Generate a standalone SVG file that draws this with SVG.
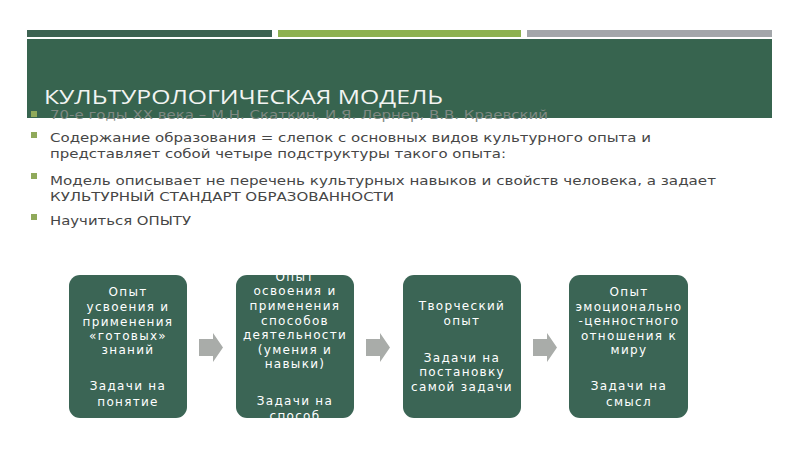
<svg xmlns="http://www.w3.org/2000/svg" width="800" height="449" viewBox="0 0 800 449">
  <style>
    .title { font-family: "Open Sans", "DejaVu Sans", sans-serif; font-size: 20px; fill: #f2f4f2; }
    .body { font-family: "DejaVu Sans", "Noto Sans", sans-serif; font-size: 13px; fill: #464646; }
    .sub { font-family: "DejaVu Sans", "Noto Sans", sans-serif; font-size: 11.5px; fill: #7f8983; }
    .bullet { fill: #8fa95a; }
    .box { fill: #3b6555; }
    .bt { font-family: "DejaVu Sans", "Noto Sans", sans-serif; font-size: 12px; fill: #ffffff; text-anchor: middle; letter-spacing: 1.3px; }
    .arrow { fill: #a9aca9; }
  </style>
  <defs>
    <path id="arr" d="M0,6 H14 V0 L24,14.5 L14,29 V23 H0 Z"/>
  </defs>
  <rect width="800" height="449" fill="#ffffff"/>

  <!-- top bars -->
  <rect x="27" y="30" width="245" height="7" fill="#3d6352"/>
  <rect x="278" y="30" width="243" height="7" fill="#8db150"/>
  <rect x="527" y="30" width="245" height="7" fill="#a3a6aa"/>

  <!-- header -->
  <rect x="27" y="39" width="745" height="79" fill="#37644f"/>
  <text class="title" x="44" y="103.5" textLength="399" lengthAdjust="spacingAndGlyphs">КУЛЬТУРОЛОГИЧЕСКАЯ МОДЕЛЬ</text>

  <!-- bullets -->
  <rect class="bullet" x="31" y="111" width="6" height="6"/>
  <text class="sub" x="50" y="119" textLength="498" lengthAdjust="spacingAndGlyphs">70-е годы XX века – М.Н. Скаткин, И.Я. Лернер, В.В. Краевский</text>

  <rect class="bullet" x="31" y="132" width="6" height="6"/>
  <text class="body" x="50" y="142" textLength="601" lengthAdjust="spacingAndGlyphs">Содержание образования = слепок с основных видов культурного опыта и</text>
  <text class="body" x="50" y="158" textLength="456" lengthAdjust="spacingAndGlyphs">представляет собой четыре подструктуры такого опыта:</text>

  <rect class="bullet" x="31" y="173" width="6" height="6"/>
  <text class="body" x="50" y="185" textLength="666" lengthAdjust="spacingAndGlyphs">Модель описывает не  перечень культурных навыков и свойств человека, а задает</text>
  <text class="body" x="50" y="201" textLength="344" lengthAdjust="spacingAndGlyphs">КУЛЬТУРНЫЙ СТАНДАРТ ОБРАЗОВАННОСТИ</text>

  <rect class="bullet" x="31" y="214" width="6" height="6"/>
  <text class="body" x="50" y="225" textLength="141" lengthAdjust="spacingAndGlyphs">Научиться ОПЫТУ</text>

  <!-- nodes -->
  <g id="node1">
    <rect class="box" x="69" y="275" width="118" height="143" rx="11"/>
    <text class="bt" x="128" y="296">Опыт</text>
    <text class="bt" x="128" y="311">усвоения и</text>
    <text class="bt" x="128" y="326">применения</text>
    <text class="bt" x="128" y="340">«готовых»</text>
    <text class="bt" x="128" y="354">знаний</text>
    <text class="bt" x="128" y="390">Задачи на</text>
    <text class="bt" x="128" y="406">понятие</text>
  </g>
  <g id="node2">
    <rect class="box" x="236" y="275" width="118" height="143" rx="11"/>
    <text class="bt" x="295" y="281">Опыт</text>
    <text class="bt" x="295" y="295">освоения и</text>
    <text class="bt" x="295" y="310">применения</text>
    <text class="bt" x="295" y="325">способов</text>
    <text class="bt" x="295" y="339">деятельности</text>
    <text class="bt" x="295" y="354">(умения и</text>
    <text class="bt" x="295" y="368">навыки)</text>
    <text class="bt" x="295" y="405">Задачи на</text>
    <text class="bt" x="295" y="420">способ</text>
  </g>
  <g id="node3">
    <rect class="box" x="403" y="275" width="118" height="143" rx="11"/>
    <text class="bt" x="462" y="310">Творческий</text>
    <text class="bt" x="462" y="325">опыт</text>
    <text class="bt" x="462" y="362">Задачи на</text>
    <text class="bt" x="462" y="376">постановку</text>
    <text class="bt" x="462" y="391">самой задачи</text>
  </g>
  <g id="node4">
    <rect class="box" x="569" y="275" width="119" height="143" rx="11"/>
    <text class="bt" x="629" y="296">Опыт</text>
    <text class="bt" x="629" y="311">эмоционально</text>
    <text class="bt" x="629" y="325">-ценностного</text>
    <text class="bt" x="629" y="340">отношения к</text>
    <text class="bt" x="629" y="354">миру</text>
    <text class="bt" x="629" y="390">Задачи на</text>
    <text class="bt" x="629" y="406">смысл</text>
  </g>

  <!-- connectors -->
  <g id="connectors">
    <use href="#arr" class="arrow" x="199" y="333"/>
    <use href="#arr" class="arrow" x="366" y="333"/>
    <use href="#arr" class="arrow" x="533" y="333"/>
  </g>
</svg>
